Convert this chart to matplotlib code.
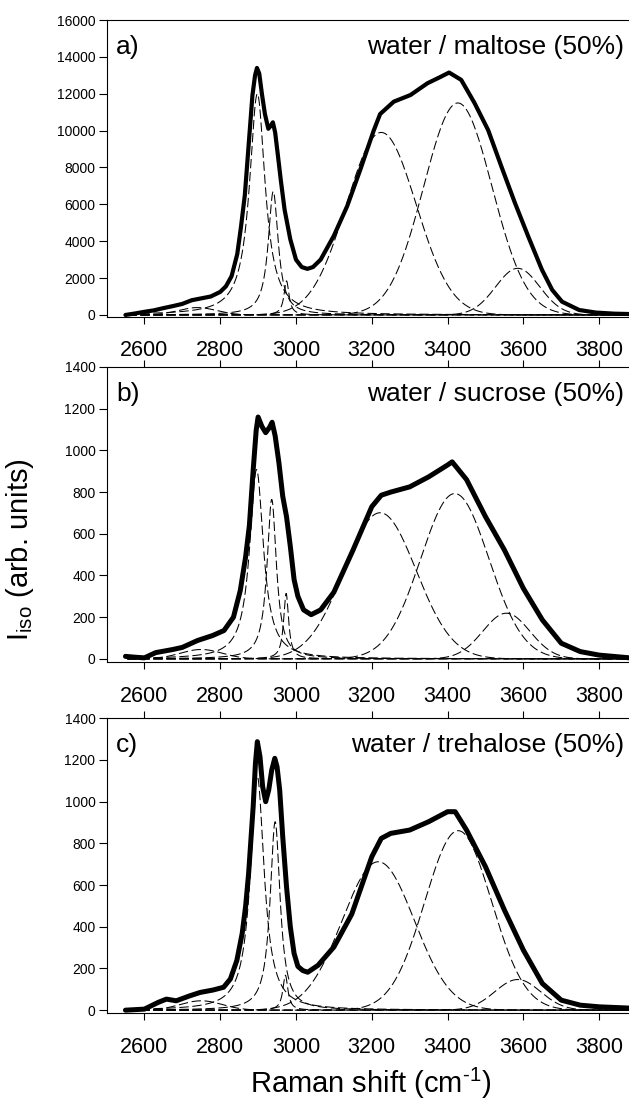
import numpy as np
import matplotlib.pyplot as plt

plt.rcParams['font.family'] = ['Liberation Sans', 'DejaVu Sans']
plt.rcParams['mathtext.fontset'] = 'custom'
plt.rcParams['mathtext.rm'] = 'Liberation Sans'
plt.rcParams['axes.unicode_minus'] = False

x_malt = [2550, 2575, 2600, 2625, 2650, 2675, 2700, 2725, 2750, 2775,
          2800, 2815, 2830, 2845, 2855, 2865, 2875, 2885, 2892, 2897,
          2903, 2910, 2918, 2927, 2933, 2939, 2945, 2952, 2960, 2970,
          2985, 3000, 3015, 3030, 3045, 3065, 3100, 3135, 3170, 3205,
          3222, 3258, 3302, 3347, 3380, 3404, 3436, 3471, 3507, 3542,
          3578, 3613, 3649, 3676, 3702, 3747, 3791, 3840, 3880]
y_malt = [0, 80, 170, 250, 370, 480, 600, 800, 900, 1000,
          1250, 1550, 2100, 3300, 4800, 6500, 9200, 11900, 13000, 13400,
          13100, 12000, 10900, 10100, 10250, 10450, 9900, 8700, 7300, 5700,
          4100, 3000, 2600, 2500, 2600, 3000, 4300, 5900, 7900, 10000,
          10900, 11570, 11930, 12570, 12900, 13150, 12750, 11500, 10030, 8050,
          6060, 4250, 2450, 1360, 720, 270, 130, 70, 50]

x_sucr = [2550, 2575, 2600, 2630, 2675, 2700, 2740, 2780, 2810, 2835,
          2853, 2867, 2877, 2887, 2895, 2900, 2910, 2920, 2930, 2937,
          2945, 2955, 2965, 2975, 2985, 2995, 3005, 3020, 3040, 3065,
          3100, 3150, 3200, 3225, 3250, 3300, 3350, 3400, 3412, 3450,
          3500, 3550, 3600, 3650, 3700, 3750, 3800, 3880]
y_sucr = [12, 8, 5, 30, 45, 55, 88, 112, 136, 200,
          328, 488, 640, 905, 1097, 1160, 1115, 1085, 1110, 1135,
          1070, 940, 780, 682, 540, 380, 300, 235, 212, 235,
          320, 520, 730, 785, 800, 825, 873, 930, 945, 860,
          682, 522, 338, 187, 75, 35, 18, 5]

x_treh = [2550, 2600, 2636, 2658, 2684, 2720, 2747, 2782, 2809, 2827,
          2844, 2858, 2867, 2875, 2887, 2893, 2898, 2905, 2912, 2920,
          2928, 2936, 2944, 2950, 2957, 2965, 2975, 2985, 2995, 3005,
          3018, 3031, 3058, 3100, 3147, 3200, 3225, 3250, 3300, 3350,
          3400, 3420, 3450, 3500, 3550, 3600, 3650, 3700, 3750, 3800,
          3880]
y_treh = [0, 5, 37, 53, 45, 69, 85, 97, 110, 150,
          239, 368, 497, 656, 976, 1184, 1288, 1216, 1072, 1000,
          1056, 1152, 1208, 1168, 1056, 832, 592, 400, 272, 210,
          190, 182, 215, 303, 460, 736, 824, 848, 864, 904,
          952, 952, 864, 688, 480, 288, 128, 48, 24, 16,
          10]

# fitted components: centre, height, width, shape (l = lorentzian, g = gaussian)
band_kind = ['g', 'l', 'l', 'l', 'g', 'g', 'g']
pos_malt = [2740, 2898, 2940, 2975, 3225, 3427, 3585]
amp_malt = [400, 12000, 6700, 1850, 9900, 11500, 2530]
wid_malt = [50, 25, 16, 8, 92, 90, 58]

pos_sucr = [2750, 2896, 2936, 2974, 3222, 3419, 3555]
amp_sucr = [45, 908, 765, 314, 701, 793, 219]
wid_sucr = [55, 22, 15, 8, 95, 90, 62]

pos_treh = [2750, 2898, 2945, 2972, 3217, 3428, 3585]
amp_treh = [45, 1120, 904, 168, 712, 861, 147]
wid_treh = [55, 22, 16, 8, 95, 88, 60]

titles = ['water / maltose (50%)', 'water / sucrose (50%)', 'water / trehalose (50%)']
letters = ['a)', 'b)', 'c)']


def band(x, c, h, w, kind):
    if kind == 'l':
        return h / (1 + ((x - c) / w) ** 2)
    return h * np.exp(-0.5 * ((x - c) / w) ** 2)


fig = plt.figure(figsize=(6.29, 11.06), dpi=100)
W, H = 629.0, 1106.0

# axes boxes in pixels (top, bottom)
boxes = [(20, 316.8), (367, 662), (718.3, 1013.3)]
spectra = [(x_malt, y_malt), (x_sucr, y_sucr), (x_treh, y_treh)]
fits = [(pos_malt, amp_malt, wid_malt), (pos_sucr, amp_sucr, wid_sucr),
        (pos_treh, amp_treh, wid_treh)]
ylims = [(-100, 16000), (-15, 1400), (-15, 1400)]
yticks = [np.arange(0, 16001, 2000), np.arange(0, 1401, 200), np.arange(0, 1401, 200)]
thick = [3.0, 3.6, 3.6]

xf = np.arange(2555, 3881, 1.0)

for i in range(3):
    top, bot = boxes[i]
    ax = fig.add_axes([106.5 / W, 1 - bot / H, 523 / W, (bot - top) / H])

    for c, h, w, k in zip(*fits[i], band_kind):
        ax.plot(xf, band(xf, c, h, w, k), color='black', lw=0.75, dashes=(9, 3.5))

    xs, ys = spectra[i]
    ax.plot(xs, ys, color='black', lw=thick[i], solid_joinstyle='round',
            solid_capstyle='round', zorder=5)

    ax.set_xlim(2500, 3880)
    ax.set_ylim(*ylims[i])
    ax.set_xticks(np.arange(2600, 3801, 200))
    ax.set_yticks(yticks[i])
    ax.spines['right'].set_visible(False)
    for s in ['left', 'top', 'bottom']:
        ax.spines[s].set_linewidth(0.8)
    ax.tick_params(axis='x', direction='out', length=5, width=0.8,
                   labelsize=15.5, pad=12, top=(i > 0))
    ax.tick_params(axis='y', direction='out', length=6, width=0.8,
                   labelsize=10, pad=2)

    ax.text(0.018, 0.91, letters[i], transform=ax.transAxes, fontsize=19,
            ha='left', va='center')
    ax.text(0.99, 0.91, titles[i], transform=ax.transAxes, fontsize=19,
            ha='right', va='center')

fig.text(20 / W, 1 - 550 / H, r'I$_\mathregular{iso}$ (arb. units)', rotation=90,
         ha='center', va='center', fontsize=21)
fig.text(371 / W, 1 - 1083 / H, r'Raman shift (cm$^{\text{-1}}$)',
         ha='center', va='center', fontsize=21)

fig.savefig('out.png', dpi=100)
